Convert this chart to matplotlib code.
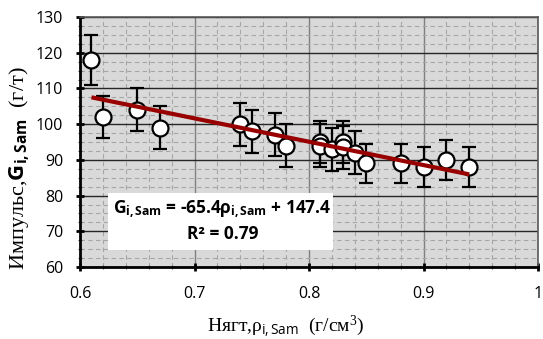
import matplotlib
matplotlib.use("Agg")
import matplotlib.pyplot as plt
from matplotlib.ticker import MultipleLocator
from matplotlib.patches import Rectangle

density = [0.61, 0.62, 0.65, 0.67, 0.74, 0.75, 0.77, 0.78, 0.81, 0.81,
           0.82, 0.83, 0.83, 0.84, 0.85, 0.88, 0.90, 0.92, 0.94]
impulse = [118, 102, 104, 99, 100, 98, 97, 94, 95, 94,
           93, 95, 93.5, 92, 89, 89, 88, 90, 88]
errors = [7, 6, 6, 6, 6, 6, 6, 6, 6, 6, 6, 6, 6, 6, 5.5, 5.5, 5.5, 5.5, 5.5]
slope, intercept = -65.4, 147.4
fit_x = [0.61, 0.94]
xticks = [0.6, 0.7, 0.8, 0.9, 1.0]
xtick_labels = ["0.6", "0.7", "0.8", "0.9", "1"]
yticks = [60, 70, 80, 90, 100, 110, 120, 130]

plt.rcParams['mathtext.fontset'] = 'custom'
plt.rcParams['mathtext.rm'] = 'Liberation Serif'
plt.rcParams['mathtext.bf'] = 'Open Sans:bold'
plt.rcParams['mathtext.sf'] = 'Open Sans'
plt.rcParams['mathtext.it'] = 'Liberation Serif:italic'

fig = plt.figure(figsize=(5.43, 3.39), dpi=100)
ax = fig.add_axes([80/543, 72/339, 458/543, 250/339])
ax.set_facecolor('#d9d9d9')
ax.set_xlim(0.6, 1.0)
ax.set_ylim(60, 130)

ax.xaxis.set_major_locator(MultipleLocator(0.1))
ax.xaxis.set_minor_locator(MultipleLocator(0.02))
ax.yaxis.set_major_locator(MultipleLocator(10))
ax.yaxis.set_minor_locator(MultipleLocator(2.5))
ax.set_xticks(xticks)
ax.set_xticklabels(xtick_labels)
ax.set_yticks(yticks)

ax.grid(which='minor', color='#a6a6a6', linestyle=(0, (4, 3)), linewidth=0.8, zorder=0)
ax.grid(which='major', axis='y', color='#262626', linewidth=1.0, zorder=0.5)
ax.grid(which='major', axis='x', color='#7f7f7f', linewidth=1.0, zorder=0.5)
ax.set_axisbelow(True)

for s in ['left', 'bottom']:
    ax.spines[s].set_linewidth(2.0)
    ax.spines[s].set_color('black')
for s in ['top', 'right']:
    ax.spines[s].set_linewidth(1.2)
    ax.spines[s].set_color('#595959')

ax.tick_params(which='major', direction='inout', length=6, width=2, labelsize=11.5)
ax.tick_params(which='minor', direction='inout', length=3, width=0.8, color='#595959')
ax.tick_params(axis='y', pad=9)
ax.tick_params(axis='x', pad=11)
for lab in ax.get_xticklabels() + ax.get_yticklabels():
    lab.set_fontfamily('Open Sans')

# equation box
ax.add_patch(Rectangle((28/458, 17/250), 225/458, 57/250, transform=ax.transAxes,
                       facecolor='white', edgecolor='none', zorder=1))

ax.errorbar(density, impulse, yerr=errors, fmt='o', color='black',
            markerfacecolor='white', markeredgecolor='black', markersize=11.5,
            markeredgewidth=1.6, elinewidth=1.6, capsize=5, capthick=1.6, zorder=3)
ax.plot(fit_x, [slope * v + intercept for v in fit_x], color='#990000',
        linewidth=3, zorder=4, solid_capstyle='butt')

ax.text(142/458, (267-209)/250,
        r"$\mathbf{G}_{\mathbf{i,Sam}}$ = -65.4$\mathbf{\rho}_{\mathbf{i,Sam}}$ + 147.4",
        transform=ax.transAxes, ha='center', va='center', fontsize=12.5,
        fontweight='bold', fontfamily='Open Sans', zorder=5)
ax.text(143/458, (267-234)/250, "R² = 0.79", transform=ax.transAxes,
        ha='center', va='center', fontsize=12.5, fontweight='bold',
        fontfamily='Open Sans', zorder=5)

fig.text(19/543, 1 - 168/339, r"Импульс,$\mathbf{G}_{\mathbf{i,Sam}}$  (г/т)",
         rotation=90, ha='center', va='center', fontsize=16,
         fontfamily='Liberation Serif')
fig.text(286/543, 1 - 326/339, r"Нягт,$\mathrm{\rho}_{\mathsf{i,Sam}}$  (г/см$^3$)",
         ha='center', va='center', fontsize=14, fontfamily='Liberation Serif')

fig.savefig('out.png', dpi=100)
